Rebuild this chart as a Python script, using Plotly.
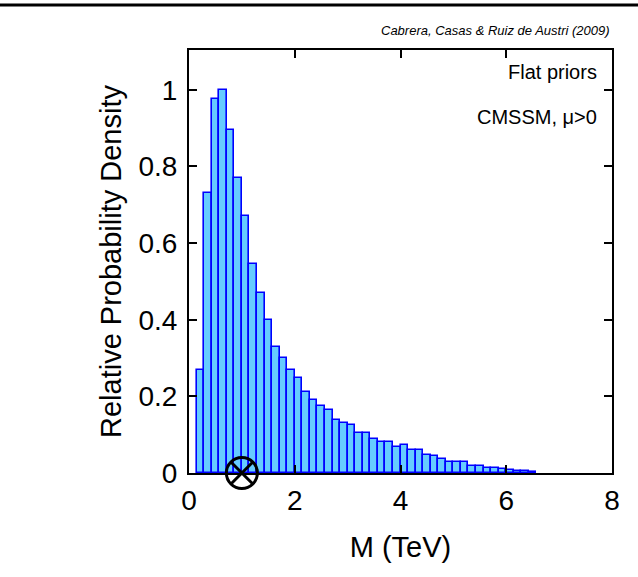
import plotly.graph_objects as go

# Histogram of the relative probability density of M (TeV), bins of 1/7 TeV
bin_width = 1.0 / 7.0
first_bin = 1  # index of the first populated bin (left edge = first_bin * bin_width)
density = [
    0.27, 0.73, 0.975, 1.0, 0.895, 0.77, 0.67, 0.545,
    0.47, 0.40, 0.33, 0.30, 0.27,
    0.247, 0.211, 0.191, 0.176, 0.164, 0.138, 0.130, 0.124,
    0.104, 0.104, 0.089, 0.082, 0.082, 0.069, 0.072,
    0.060, 0.060, 0.047, 0.045, 0.036, 0.030, 0.030, 0.030,
    0.019, 0.019, 0.014, 0.014, 0.010, 0.007, 0.005, 0.004, 0.003,
]
bin_centers = [(first_bin + k + 0.5) * bin_width for k in range(len(density))]

# Best-fit point marked on the axis
best_fit_M = [1.0]
best_fit_y = [0.0]

x_ticks = [0, 2, 4, 6, 8]
y_ticks = [0, 0.2, 0.4, 0.6, 0.8, 1.0]
y_tick_text = ["0", "0.2", "0.4", "0.6", "0.8", "1"]

FONT = "Liberation Sans, Arial, Helvetica, sans-serif"

fig = go.Figure()
fig.add_trace(go.Bar(
    x=bin_centers,
    y=density,
    width=bin_width,
    marker=dict(color="#66CCFF", line=dict(color="#0000FF", width=1.6)),
    showlegend=False,
))
fig.add_trace(go.Scatter(
    x=best_fit_M,
    y=best_fit_y,
    mode="markers",
    marker=dict(symbol="circle-x-open", size=31, color="black",
                line=dict(color="black", width=3)),
    cliponaxis=False,
    showlegend=False,
))

axis_common = dict(
    showline=True, linecolor="black", linewidth=2, mirror="ticks",
    ticks="inside", ticklen=8, tickwidth=1.5, tickcolor="black",
    showgrid=False, zeroline=False,
    tickfont=dict(family=FONT, size=28, color="black"),
)

fig.update_layout(
    width=638, height=577, autosize=False,
    margin=dict(l=189, r=26, t=50, b=104),
    plot_bgcolor="white", paper_bgcolor="white",
    bargap=0,
    xaxis=dict(
        range=[0, 8], tickvals=x_ticks, ticklabelstandoff=1,
        title=dict(text="M (TeV)", font=dict(family=FONT, size=29, color="black"),
                   standoff=22),
        **axis_common,
    ),
    yaxis=dict(
        range=[0, 1.104], tickvals=y_ticks, ticktext=y_tick_text,
        ticklabelstandoff=4,
        title=dict(text="Relative Probability Density",
                   font=dict(family=FONT, size=29, color="black"), standoff=8),
        **axis_common,
    ),
    annotations=[
        dict(text="<i>Cabrera, Casas & Ruiz de Austri (2009)</i>",
             xref="paper", yref="paper", x=1.0, y=1.0, yshift=20,
             xanchor="right", yanchor="middle", showarrow=False,
             font=dict(family=FONT, size=13, color="black")),
        dict(text="Flat priors", xref="paper", yref="paper", x=0.97, y=1.0,
             yshift=-22, xanchor="right", yanchor="middle", showarrow=False,
             font=dict(family=FONT, size=20, color="black")),
        dict(text="CMSSM, \u03bc>0", xref="paper", yref="paper", x=0.97, y=1.0,
             yshift=-67, xanchor="right", yanchor="middle", showarrow=False,
             font=dict(family=FONT, size=20, color="black")),
    ],
    shapes=[
        dict(type="line", xref="paper", yref="paper",
             x0=-0.5, x1=1.1, y0=(473 - 5) / 423, y1=(473 - 5) / 423,
             line=dict(color="black", width=3)),
    ],
)

fig.write_html("out.html")
